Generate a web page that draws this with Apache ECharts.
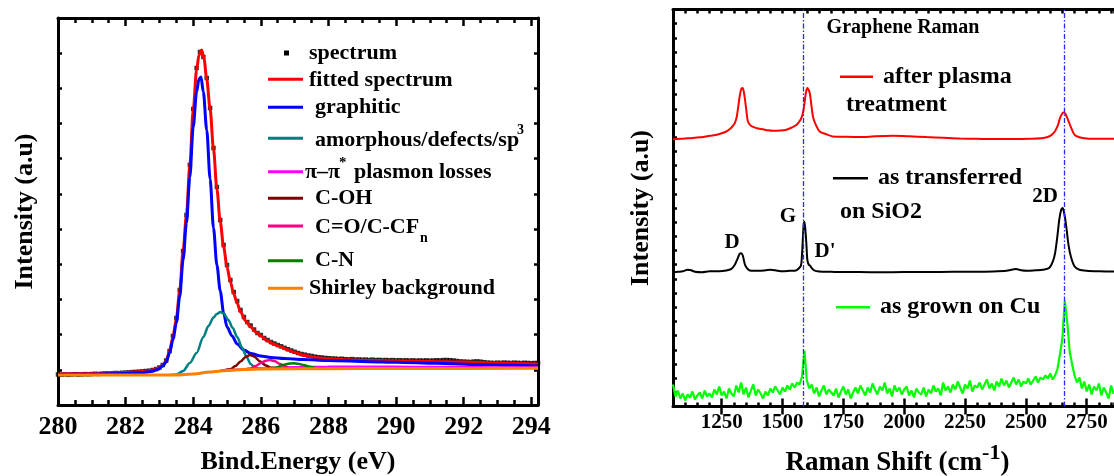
<!DOCTYPE html>
<html>
<head>
<meta charset="utf-8">
<title>XPS C1s / Graphene Raman</title>
<script src="https://cdn.jsdelivr.net/npm/echarts@6/dist/echarts.min.js"></script>
<style>
  html, body { margin: 0; padding: 0; background: #fff; }
  #chart { width: 1114px; height: 476px; }
</style>
</head>
<body>
<div id="chart"></div>
<script>
// ---------- XPS C1s panel: binding energy (eV) vs intensity (a.u.) ----------
const xpsTicks = [280, 282, 284, 286, 288, 290, 292, 294]
const spectrumStart = 280
const spectrumStep = 0.1
// measured points, one every 0.1 eV from 280.0 to 294.2
const spectrum = [
  0.5, 0.3, 0.6, 0.2, 0.5, 0.8, 0.4, 0.6, 0.9, 0.7,
  1.0, 1.2, 1.0, 1.3, 1.5, 1.4, 1.7, 2.0, 1.9, 2.2,
  2.4, 2.6, 2.9, 3.1, 3.3, 3.6, 4.0, 4.3, 5.0, 6.0,
  7.5, 10, 14.5, 24, 39, 57, 85, 124, 160, 210,
  266, 307, 323, 318, 297, 267, 227, 188, 155, 130,
  110, 95, 83, 74, 65, 58, 53, 49.5, 45.5, 42,
  40, 37, 35, 33, 31.5, 30, 28.7, 27.2, 25.8, 24.5,
  23.2, 22, 21, 20.3, 19.5, 19, 18.3, 17.8, 17.5, 17,
  16.8, 16.5, 16.4, 16, 16.2, 15.8, 15.6, 15.9, 15.4, 15.5,
  15.2, 15.4, 15.0, 15.3, 14.9, 15.1, 14.8, 15.0, 14.7, 14.9,
  14.6, 14.8, 14.5, 14.7, 14.4, 14.6, 14.3, 14.5, 14.4, 14.6,
  14.3, 14.5, 14.7, 14.6, 14.9, 15.0, 14.8, 14.5, 14.0, 13.6,
  13.4, 13.2, 13.0, 13.4, 13.6, 13.3, 12.8, 12.4, 12.2, 12.0,
  12.3, 12.1, 12.4, 12.2, 12.0, 12.3, 12.1, 11.9, 12.2, 12.0,
  11.8, 12.0, 11.9
]
const fittedSpectrum = [[280,1],[281,1.5],[282,2.5],[282.5,3.5],[282.75,4.5],[282.95,6.5],[283.1,10],[283.2,14],[283.3,24],[283.4,38],[283.5,56],[283.6,84],[283.7,124],[283.8,160],[283.9,210],[284.0,265],[284.1,305],[284.17,320],[284.25,325],[284.32,316],[284.4,296],[284.5,266],[284.6,226],[284.7,186],[284.8,153],[284.9,128],[285.0,108],[285.1,93],[285.2,81],[285.3,72],[285.4,63],[285.55,54],[285.7,48],[285.85,43],[286.0,39],[286.2,34],[286.4,30.5],[286.6,28],[286.8,25],[287.0,22.5],[287.3,19.5],[287.6,17.5],[288.0,16.2],[288.5,15.3],[289.0,14.8],[290.0,14],[291,13.6],[292,13],[293,12],[294.2,11]]
const graphitic = [[280,0.5],[281,0.8],[282,1.5],[282.5,2.5],[282.75,3.5],[282.95,5.5],[283.1,9],[283.2,13],[283.3,22],[283.4,35],[283.5,52],[283.6,78],[283.7,115],[283.8,152],[283.9,198],[284.0,248],[284.1,283],[284.17,296],[284.23,298],[284.3,283],[284.4,245],[284.5,196],[284.6,147],[284.7,110],[284.8,84],[284.9,62],[285.0,48],[285.15,39],[285.3,31],[285.5,25],[285.7,21.5],[286.0,19],[286.3,17.5],[286.7,16.5],[287.25,15.5],[288,14.5],[289.2,13.3],[290,12.7],[291.2,11.7],[292.5,10.5],[293.5,9.7],[294.2,9]]
const amorphous = [[283.3,0],[283.5,0.5],[283.7,4],[283.9,12],[284.1,22],[284.3,38],[284.45,49],[284.6,57.5],[284.7,61],[284.8,63],[284.9,61.5],[285.04,55],[285.17,47],[285.3,38],[285.45,27],[285.58,18],[285.7,11],[285.8,8],[285.9,6.5],[286.1,6]]
const plasmonLoss = [[284.8,4.5],[285.5,5.6],[286,6.5],[286.5,7.2],[287,7.8],[288,8.2],[289,8.3],[290,8.2],[291,8],[292,7.8],[293,7.6],[294.2,7.5]]
const cOH = [[284.9,4.6],[285.1,5.8],[285.25,9],[285.4,13.5],[285.55,18],[285.68,20],[285.8,18.5],[285.98,13.5],[286.15,9.5],[286.3,7.2],[286.5,6.2]]
const cO = [[285.5,5.5],[285.7,6.5],[285.85,9],[286.0,12],[286.15,14.3],[286.27,15],[286.4,14],[286.57,11],[286.72,8.5],[286.86,6.8],[287.0,6.2]]
const cN = [[286.2,6],[286.45,7.5],[286.66,10],[286.85,11.5],[286.96,11.7],[287.1,11.3],[287.26,10],[287.45,8.2],[287.65,6.8],[287.9,6.3]]
const shirley = [[280,0],[283.5,0],[284,1],[284.5,3],[285,4.5],[285.5,5.5],[286,6],[288,6.3],[290,6.5],[294.2,6.7]]

// ---------- Raman panel: shift (cm-1) vs intensity (a.u.) ----------
const ramanTicks = [1250, 1500, 1750, 2000, 2250, 2500, 2750]
const ramanPeakLines = [1586, 2658] // G and 2D
const afterPlasma = [[1050,267.2],[1080,267.7],[1110,268.2],[1132,268.4],[1160,269.2],[1180,269.7],[1201,270.7],[1230,271.7],[1250,273.2],[1269,275],[1285,277.7],[1296,280.7],[1304,283.4],[1312,289.7],[1318,299.7],[1324,310],[1330,317.2],[1335,318.4],[1340,315.7],[1346,306.7],[1352,294.7],[1358,285],[1370,280.7],[1393,278.4],[1420,277.2],[1440,276.2],[1461,275.7],[1490,275.9],[1516,276.7],[1540,279.2],[1555,281.2],[1564,283.4],[1575,287.2],[1584,293.4],[1590,302.7],[1596,313.7],[1602,318.4],[1607,316.7],[1612,313.4],[1618,302.7],[1625,290],[1635,282.7],[1653,275],[1680,272.2],[1708,270],[1750,269.7],[1817,269.4],[1880,270.2],[1954,270.7],[2020,270.2],[2091,269.4],[2160,268.7],[2228,268],[2300,267.7],[2365,267.4],[2450,267.5],[2520,267.7],[2571,268.4],[2600,270.7],[2619,275],[2632,281.7],[2640,288.4],[2650,293.2],[2656,294],[2662,292.7],[2673,286.7],[2686,278.7],[2700,271.7],[2720,269.2],[2749,268],[2800,267.7],[2858,267.7],[2950,267.7]]
const asTransferred = [[1050,134],[1070,134.7],[1090,135.2],[1110,136.7],[1125,136.2],[1140,134.7],[1170,134.2],[1200,135.2],[1240,135.2],[1269,136],[1290,137.7],[1304,141.7],[1315,147.7],[1324,152.7],[1330,153.2],[1337,150.7],[1346,141.7],[1360,136.7],[1373,135.7],[1400,135.7],[1430,136.2],[1450,136.7],[1470,136.2],[1500,135.2],[1530,135.7],[1555,136],[1575,140.7],[1580,151.7],[1584,170],[1587,182.7],[1590,184.7],[1594,176.7],[1598,162.7],[1602,146.7],[1608,141.7],[1614,140.7],[1620,138.4],[1630,136.2],[1650,135],[1700,134.7],[1760,134.4],[1817,134.4],[1900,134.2],[2000,134.4],[2091,134.4],[2200,134.7],[2300,134.7],[2365,135],[2420,135.7],[2460,137.4],[2480,136.2],[2505,135.7],[2540,136.2],[2570,136.7],[2595,138.4],[2610,144.7],[2620,153.4],[2630,171.7],[2637,186.7],[2645,196.7],[2651,198.4],[2657,193.7],[2665,181.7],[2675,161.7],[2685,149.7],[2700,140],[2720,136.7],[2749,135.7],[2800,135.2],[2858,135],[2950,135]]
const grownStart = 1050
const grownStep = 10
// one reading every 10 cm-1 from 1050 to 2900
const asGrownOnCu = [
  22, 10, 16, 8, 13, 6, 12, 9, 15, 7,
  11, 14, 8, 16, 10, 13, 9, 17, 12, 20,
  11, 15, 8, 18, 13, 10, 21, 14, 24, 12,
  19, 9, 16, 22, 11, 17, 13, 8, 15, 11,
  18, 14, 20, 16, 12, 19, 15, 21, 17, 23,
  19, 24, 22, 30, 56, 26, 18, 22, 13, 19,
  10, 16, 21, 12, 17, 14, 11, 18, 9, 15,
  20, 12, 17, 8, 14, 19, 13, 21, 16, 11,
  19, 14, 23, 17, 12, 20, 16, 24, 13, 18,
  10, 21, 15, 19, 12, 17, 20, 11, 16, 9,
  18, 14, 12, 19, 10, 17, 13, 21, 15, 18,
  11, 24, 16, 20, 14, 22, 17, 25, 19, 13,
  22, 18, 26, 15, 21, 19, 24, 17, 22, 27,
  18, 23, 16, 25, 20, 28, 21, 26, 19, 24,
  29, 22, 27, 20, 25, 23, 28, 22, 26, 30,
  24, 29, 27, 31, 28, 33, 27, 31, 38, 52,
  68, 106, 84, 55, 42, 31, 24, 29, 18, 25,
  15, 22, 12, 20, 16, 23, 11, 19, 14, 8,
  21, 13, 17, 10, 18, 15
]

const serif = 'Liberation Serif'
const chart = echarts.init(document.getElementById('chart'))

const fineTick = {show: true, inside: true, length: 4, lineStyle: {color: '#000', width: 2.5}}
const boxLine = {show: true, onZero: false, lineStyle: {color: '#000', width: 3}}

const text = (x, y, str, size, align) => ({
  type: 'text', x, y, z: 100,
  style: {
    text: str, fill: '#000', font: `bold ${size}px "${serif}"`,
    align: align || 'left', textAlign: align || 'left',
    verticalAlign: 'middle', textVerticalAlign: 'middle'
  }
})
const swatch = (x1, x2, y, color, width) => ({
  type: 'line', z: 100,
  shape: {x1, y1: y, x2, y2: y},
  style: {stroke: color, lineWidth: width || 3}
})

const xpsLine = (name, data, color, width) => ({
  name, type: 'line', xAxisIndex: 0, yAxisIndex: 0, data,
  showSymbol: false, smooth: 0.3, smoothMonotone: 'x',
  lineStyle: {color, width}, itemStyle: {color}
})
const ramanLine = (name, data, color, width, smooth) => ({
  name, type: 'line', xAxisIndex: 2, yAxisIndex: 3, data,
  showSymbol: false, smooth, lineStyle: {color, width}, itemStyle: {color}
})

const option = {
  animation: false,
  backgroundColor: '#fff',
  textStyle: {fontFamily: serif, fontWeight: 'bold', color: '#000'},
  grid: [
    {left: 58, top: 18, width: 480, height: 387, outerBoundsMode: 'none', containLabel: false},
    {left: 673, top: 9.5, width: 441, height: 397, outerBoundsMode: 'none', containLabel: false}
  ],
  xAxis: [
    {
      gridIndex: 0, type: 'value', position: 'bottom', min: 280, max: 294.2, interval: 2,
      axisLine: boxLine,
      axisTick: {show: true, inside: true, length: 8, lineStyle: {color: '#000', width: 2.5}},
      minorTick: {show: true, splitNumber: 4, length: 5, lineStyle: {color: '#000', width: 2.5}},
      splitLine: {show: false},
      axisLabel: {
        customValues: xpsTicks, fontSize: 26, fontWeight: 'bold', fontFamily: serif,
        color: '#000', margin: 9
      },
      name: 'Bind.Energy (eV)', nameLocation: 'middle', nameGap: 44,
      nameTextStyle: {fontSize: 26, fontWeight: 'bold', fontFamily: serif, color: '#000'}
    },
    {
      gridIndex: 0, type: 'value', position: 'top', min: 280, max: 294.2, interval: 2,
      axisLine: boxLine,
      axisTick: {show: true, inside: true, length: 8, lineStyle: {color: '#000', width: 2.5}},
      minorTick: {show: true, splitNumber: 4, length: 5, lineStyle: {color: '#000', width: 2.5}},
      splitLine: {show: false}, axisLabel: {show: false}
    },
    {
      gridIndex: 1, type: 'value', position: 'bottom', min: 1050, max: 2862, interval: 50,
      axisLine: boxLine, axisTick: fineTick, splitLine: {show: false},
      axisLabel: {
        customValues: ramanTicks, formatter: v => String(v),
        fontSize: 21, fontWeight: 'bold', fontFamily: serif, color: '#000', margin: 6
      },
      name: '{a|Raman Shift (cm}{s|-1}{a|)}', nameLocation: 'middle', nameGap: 36,
      nameTextStyle: {
        padding: [0, 0, 0, 8],
        rich: {
          a: {fontSize: 27, fontWeight: 'bold', fontFamily: serif, color: '#000', lineHeight: 34, verticalAlign: 'bottom'},
          s: {fontSize: 22, fontWeight: 'bold', fontFamily: serif, color: '#000', lineHeight: 34, verticalAlign: 'top'}
        }
      }
    },
    {
      gridIndex: 1, type: 'value', position: 'bottom', min: 1050, max: 2862, interval: 50,
      axisLine: {show: false}, splitLine: {show: false}, axisLabel: {show: false},
      axisTick: {show: true, inside: true, length: 8, customValues: ramanTicks, lineStyle: {color: '#000', width: 2.5}}
    },
    {
      gridIndex: 1, type: 'value', position: 'top', min: 1050, max: 2862, interval: 50,
      axisLine: boxLine, axisTick: fineTick, splitLine: {show: false}, axisLabel: {show: false}
    },
    {
      gridIndex: 1, type: 'value', position: 'top', min: 1050, max: 2862, interval: 50,
      axisLine: {show: false}, splitLine: {show: false}, axisLabel: {show: false},
      axisTick: {show: true, inside: true, length: 8, customValues: ramanTicks, lineStyle: {color: '#000', width: 2.5}}
    }
  ],
  yAxis: [
    {
      gridIndex: 0, type: 'value', position: 'left', min: -30, max: 357,
      axisLine: boxLine, axisTick: {show: false}, axisLabel: {show: false}, splitLine: {show: false},
      name: 'Intensity (a.u)', nameLocation: 'middle', nameGap: 20,
      nameTextStyle: {fontSize: 26, fontWeight: 'bold', fontFamily: serif, color: '#000'}
    },
    {
      gridIndex: 0, type: 'value', position: 'left', min: 0, max: 11, interval: 1,
      axisLine: {show: false}, axisTick: fineTick, axisLabel: {show: false}, splitLine: {show: false}
    },
    {
      gridIndex: 0, type: 'value', position: 'right', min: 0, max: 11, interval: 1,
      axisLine: boxLine, axisTick: fineTick, axisLabel: {show: false}, splitLine: {show: false}
    },
    {
      gridIndex: 1, type: 'value', position: 'left', min: 0, max: 397,
      axisLine: boxLine, axisTick: {show: false}, axisLabel: {show: false}, splitLine: {show: false},
      name: 'Intensity (a.u)', nameLocation: 'middle', nameGap: 19,
      nameTextStyle: {fontSize: 26, fontWeight: 'bold', fontFamily: serif, color: '#000'}
    },
    {
      gridIndex: 1, type: 'value', position: 'left', min: 0, max: 28, interval: 1,
      axisLine: {show: false}, axisTick: fineTick, axisLabel: {show: false}, splitLine: {show: false}
    }
  ],
  series: [
    {
      name: 'spectrum', type: 'scatter', xAxisIndex: 0, yAxisIndex: 0,
      data: spectrum.map((v, i) => [spectrumStart + i * spectrumStep, v]),
      symbol: 'rect', symbolSize: 4.5, itemStyle: {color: '#000'}
    },
    xpsLine('fitted spectrum', fittedSpectrum, '#ff0000', 3),
    xpsLine('graphitic', graphitic, '#0000ff', 3),
    xpsLine('amorphous/defects/sp3', amorphous, '#008080', 2.5),
    xpsLine('π–π* plasmon losses', plasmonLoss, '#ff00ff', 2.5),
    xpsLine('C-OH', cOH, '#800000', 2.5),
    xpsLine('C=O/C-CFn', cO, '#ff0080', 2.5),
    xpsLine('C-N', cN, '#008000', 2.5),
    xpsLine('Shirley background', shirley, '#ff8000', 3),
    ramanLine('after plasma treatment', afterPlasma, '#ff0000', 2, 0.25),
    ramanLine('as transferred on SiO2', asTransferred, '#000000', 2, 0.25),
    Object.assign(
      ramanLine('as grown on Cu', asGrownOnCu.map((v, i) => [grownStart + i * grownStep, v]), '#00ff00', 2.2, false),
      {
        markLine: {
          silent: true, symbol: 'none', label: {show: false},
          lineStyle: {color: '#2828ff', width: 1.3, type: [5, 2, 1.5, 2]},
          data: ramanPeakLines.map(v => ({xAxis: v}))
        }
      }
    )
  ],
  graphic: [
    // XPS legend
    {type: 'rect', z: 100, shape: {x: 284, y: 50.5, width: 5, height: 5}, style: {fill: '#000'}},
    text(309, 53, 'spectrum', 22),
    swatch(268, 303, 79.3, '#ff0000'), text(309, 80, 'fitted spectrum', 22),
    swatch(268, 303, 107.3, '#0000ff'), text(315, 107, 'graphitic', 22),
    swatch(268, 303, 138.3, '#008080'), text(315, 140, 'amorphous/defects/sp', 22), text(517, 130, '3', 14),
    swatch(268, 303, 171.7, '#ff00ff'), text(305, 172, 'π–π', 22), text(339, 163, '*', 15), text(354, 172, 'plasmon losses', 22),
    swatch(268, 303, 198.3, '#800000'), text(315, 198, 'C-OH', 22),
    swatch(268, 303, 226, '#ff0080'), text(315, 227, 'C=O/C-CF', 22), text(420, 238, 'n', 14),
    swatch(268, 303, 260.7, '#008000'), text(315, 260, 'C-N', 22),
    swatch(268, 303, 288.3, '#ff8000'), text(309, 288, 'Shirley background', 22),
    // Raman annotations
    text(903, 28, 'Graphene Raman', 20, 'center'),
    swatch(840, 873, 76.7, '#ff0000', 2.5), text(883, 77, 'after plasma', 24), text(846, 105, 'treatment', 24),
    swatch(833, 868, 178.3, '#000000', 2.5), text(878, 178, 'as transferred', 24), text(840, 212, 'on SiO2', 24),
    swatch(836, 870, 307.3, '#00ff00', 2.5), text(880, 307, 'as grown on Cu', 24),
    text(732, 243, 'D', 21, 'center'), text(788, 217, 'G', 21, 'center'),
    text(825, 252, "D'", 21, 'center'), text(1045, 197, '2D', 21, 'center')
  ]
}
chart.setOption(option)
</script>
</body>
</html>
